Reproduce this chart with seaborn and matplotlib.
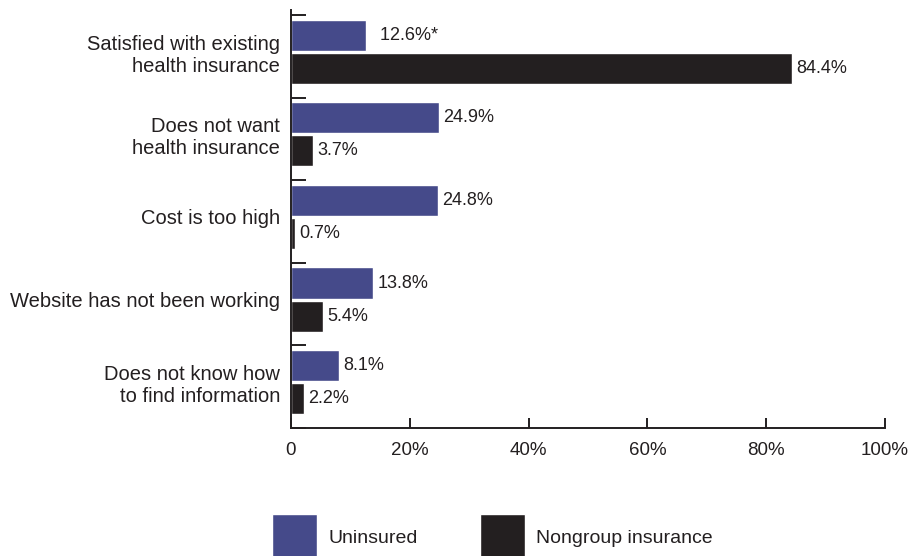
import matplotlib.pyplot as plt
import seaborn as sns
import pandas as pd
from matplotlib.patches import Patch

# 데이터
categories = ['Satisfied with existing\nhealth insurance',
              'Does not want\nhealth insurance',
              'Cost is too high',
              'Website has not been working',
              'Does not know how\nto find information']
uninsured = [12.6, 24.9, 24.8, 13.8, 8.1]
nongroup = [84.4, 3.7, 0.7, 5.4, 2.2]
series = ['Uninsured', 'Nongroup insurance']
uninsured_labels = ['  12.6%*', '24.9%', '24.8%', '13.8%', '8.1%']
nongroup_labels = ['84.4%', '3.7%', '0.7%', '5.4%', '2.2%']
x_ticks = [0, 20, 40, 60, 80, 100]
x_ticklabels = ['0', '20%', '40%', '60%', '80%', '100%']

df = pd.DataFrame({
    'reason': categories * 2,
    'share': uninsured + nongroup,
    'group': [series[0]] * len(categories) + [series[1]] * len(categories),
})

sns.set_style('white')
plt.rcParams['font.family'] = ['Liberation Sans', 'DejaVu Sans']
ink = '#231f20'
colors = ['#454a8a', '#231f20']

fig = plt.figure(figsize=(9.17, 5.56), dpi=100)
ax = fig.add_axes([291 / 917, 128 / 556, 594 / 917, 418 / 556])

sns.barplot(data=df, y='reason', x='share', hue='group', palette=colors,
            orient='h', width=0.8, gap=0.06, saturation=1, legend=False, ax=ax)

for cont, labs in zip(ax.containers, [uninsured_labels, nongroup_labels]):
    ax.bar_label(cont, labels=labs, padding=3, fontsize=13, color=ink)

# 축 설정
off = 0.055
bounds = [k - 0.5 + off for k in range(len(categories) + 1)]
ax.set_ylim(bounds[-1], bounds[0] - 0.06)
ax.set_xlim(0, 100)
ax.set_xticks(x_ticks)
ax.set_xticklabels(x_ticklabels)
ax.set_yticks(bounds, minor=True)
ax.tick_params(axis='y', which='major', left=False, length=0, pad=8,
               labelsize=14.5, labelcolor=ink)
ax.tick_params(axis='y', which='minor', left=True, direction='in',
               length=10.5, width=1.4, color=ink)
ax.tick_params(axis='x', bottom=True, direction='in', length=7, width=1.4,
               color=ink, pad=10, labelsize=13.5, labelcolor=ink)
for lab in ax.get_yticklabels():
    lab.set_horizontalalignment('right')
    lab.set_multialignment('right')
ax.set_xlabel('')
ax.set_ylabel('')
sns.despine(ax=ax)
for s in ['left', 'bottom']:
    ax.spines[s].set_linewidth(1.4)
    ax.spines[s].set_color(ink)

handles = [Patch(facecolor=c, label=l) for c, l in zip(colors, series)]
fig.legend(handles=handles, loc='center left', ncol=2, frameon=False,
           bbox_to_anchor=(272 / 917, 19 / 556), fontsize=14,
           handlelength=2.3, handleheight=3.2, handletextpad=0.6,
           columnspacing=3.2, borderpad=0, borderaxespad=0, labelcolor=ink)

fig.savefig('out.png', dpi=100)
